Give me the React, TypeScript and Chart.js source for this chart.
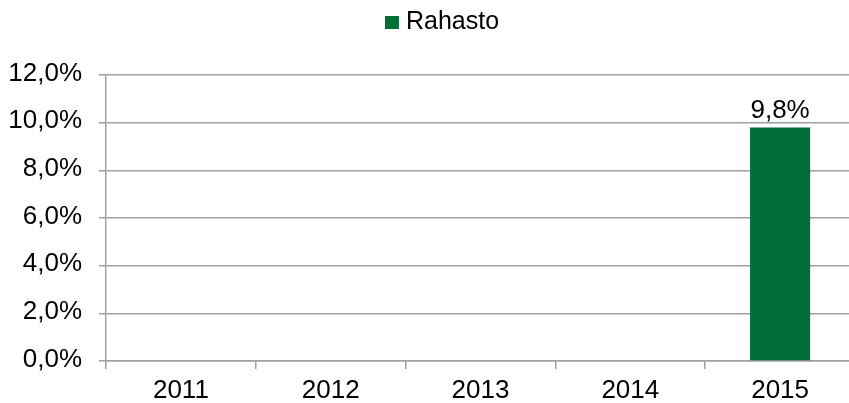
import React, { useEffect, useRef } from "react";
import { Chart, registerables } from "chart.js";

Chart.register(...registerables);

const categories = ["2011", "2012", "2013", "2014", "2015"];
const seriesName = "Rahasto";
const rahasto: (number | null)[] = [null, null, null, null, 9.8];
const yTicks = { min: 0, max: 12, step: 2 };

const FONT = "'Liberation Sans', Arial, sans-serif";
const GREEN = "#006e37";
const GRID = "#a0a0a0";

const fmt = (v: number) => v.toFixed(1).replace(".", ",") + "%";

const legendPlugin = {
  id: "customLegend",
  afterDraw(chart: any) {
    const ctx = chart.ctx;
    ctx.save();
    ctx.font = `25px ${FONT}`;
    const tw = ctx.measureText(seriesName).width;
    const box = 14;
    const gap = 7;
    const total = box + gap + tw;
    const cx = 442;
    const x0 = cx - total / 2;
    const baseline = 29;
    ctx.fillStyle = GREEN;
    ctx.fillRect(x0, baseline - 13, box, 13);
    ctx.fillStyle = "#000";
    ctx.textAlign = "left";
    ctx.textBaseline = "alphabetic";
    ctx.fillText(seriesName, x0 + box + gap, baseline);
    ctx.restore();
  },
};

const dataLabelPlugin = {
  id: "dataLabels",
  afterDatasetsDraw(chart: any) {
    const ctx = chart.ctx;
    ctx.save();
    ctx.font = `26px ${FONT}`;
    ctx.fillStyle = "#000";
    ctx.textAlign = "center";
    ctx.textBaseline = "alphabetic";
    chart.data.datasets.forEach((ds: any, di: number) => {
      const meta = chart.getDatasetMeta(di);
      meta.data.forEach((el: any, i: number) => {
        const v = ds.data[i];
        if (v === null || v === undefined) return;
        ctx.fillText(fmt(v), el.x, el.y - 9);
      });
    });
    ctx.restore();
  },
};

export default function App() {
  const ref = useRef<HTMLCanvasElement | null>(null);
  useEffect(() => {
    if (!ref.current) return;
    const chart = new Chart(ref.current, {
      type: "bar",
      data: {
        labels: categories,
        datasets: [
          {
            label: seriesName,
            data: rahasto,
            backgroundColor: GREEN,
            borderWidth: 0,
            barPercentage: 0.401,
            categoryPercentage: 1,
          },
        ],
      },
      options: {
        animation: false,
        responsive: false,
        layout: { padding: { top: 75, left: 0, right: 1, bottom: 0 } },
        plugins: {
          legend: { display: false },
          tooltip: { enabled: false },
        },
        scales: {
          x: {
            offset: true,
            afterFit: (s: any) => {
              s.height = 42;
            },
            grid: {
              offset: true,
              drawOnChartArea: false,
              drawTicks: true,
              tickLength: 8,
              color: GRID,
              lineWidth: 1.5,
            },
            border: { display: true, color: GRID, width: 1.5 },
            ticks: {
              color: "#000",
              padding: 6,
              font: { family: FONT, size: 26 },
              maxRotation: 0,
            },
          },
          y: {
            min: yTicks.min,
            max: yTicks.max,
            afterFit: (s: any) => {
              s.width = 106;
            },
            grid: {
              color: GRID,
              lineWidth: 1.5,
              drawTicks: true,
              tickLength: 7,
            },
            border: { display: true, color: GRID, width: 1.5 },
            ticks: {
              stepSize: yTicks.step,
              color: "#000",
              padding: 17,
              labelOffset: -1.5,
              font: { family: FONT, size: 26 },
              callback: (v: any) => fmt(Number(v)),
            },
          },
        },
      },
      plugins: [legendPlugin, dataLabelPlugin],
    });
    return () => chart.destroy();
  }, []);

  return (
    <div
      style={{
        position: "absolute",
        left: 0,
        top: 0,
        width: 849,
        height: 403,
        overflow: "hidden",
        background: "#fff",
      }}
    >
      <canvas
        ref={ref}
        width={856}
        height={403}
        style={{ display: "block", width: 856, height: 403 }}
      />
    </div>
  );
}
